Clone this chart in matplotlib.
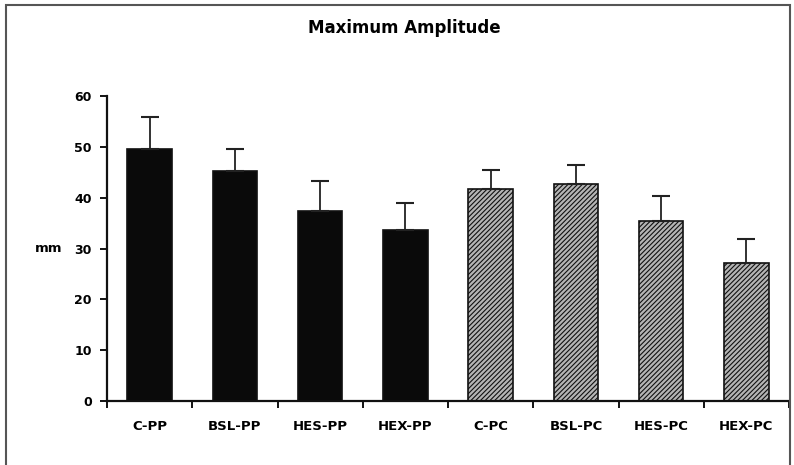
import numpy as np
import matplotlib.pyplot as plt
from matplotlib.patches import Rectangle

# Veriler
groups = ["C-PP", "BSL-PP", "HES-PP", "HEX-PP", "C-PC", "BSL-PC", "HES-PC", "HEX-PC"]
means = [49.6, 45.3, 37.4, 33.7, 41.7, 42.7, 35.4, 27.2]
errors = [6.3, 4.3, 5.9, 5.3, 3.8, 3.8, 5.0, 4.7]
yticks = [0, 10, 20, 30, 40, 50, 60]

plt.rcParams['hatch.linewidth'] = 0.8
plt.rcParams['hatch.color'] = '#222222'

fig = plt.figure(figsize=(7.94, 4.65), dpi=100)
ax = fig.add_axes([0.1348, 0.1376, 0.8589, 0.6559])

x = np.arange(len(groups))
for i in range(len(groups)):
    if i < 4:
        ax.bar(x[i], means[i], width=0.52, color='#0a0a0a', edgecolor='#111111', lw=1.2)
    else:
        ax.bar(x[i], means[i], width=0.52, color='#b4b4b4', edgecolor='#111111',
               lw=1.2, hatch='///////')
    ax.errorbar(x[i], means[i], yerr=[[0], [errors[i]]], fmt='none',
                ecolor='#222222', elinewidth=1.3, capsize=6.5, capthick=1.5)

# Eksenler
ax.set_xlim(-0.5, len(groups) - 0.5)
ax.set_ylim(0, 60)
ax.set_yticks(yticks)
ax.set_yticklabels([str(t) for t in yticks], fontweight='bold', fontsize=9)
ax.set_xticks(np.arange(len(groups) + 1) - 0.5)
ax.set_xticklabels([])
ax.set_xticks(x, minor=True)
ax.set_xticklabels(groups, minor=True, fontweight='bold', fontsize=9.5)
ax.tick_params(axis='x', which='minor', length=0, pad=14)
ax.tick_params(axis='x', which='major', length=5, width=1.3, direction='out')
ax.tick_params(axis='y', length=5, width=1.3, pad=6)
for s in ['top', 'right']:
    ax.spines[s].set_visible(False)
for s in ['left', 'bottom']:
    ax.spines[s].set_linewidth(1.6)
    ax.spines[s].set_color('#111111')

ax.set_ylabel('mm', rotation=0, fontweight='bold', fontsize=9.5, va='center')
ax.yaxis.set_label_coords(-0.085, 0.50)

fig.text(0.509, 0.94, 'Maximum Amplitude', ha='center', va='center',
         fontweight='bold', fontsize=12)

# Çerçeve
fig.patches.append(Rectangle((0.007, -0.01), 0.988, 1.0, transform=fig.transFigure,
                             fill=False, edgecolor='#555555', lw=1.5))

fig.savefig('out.png', dpi=100)
